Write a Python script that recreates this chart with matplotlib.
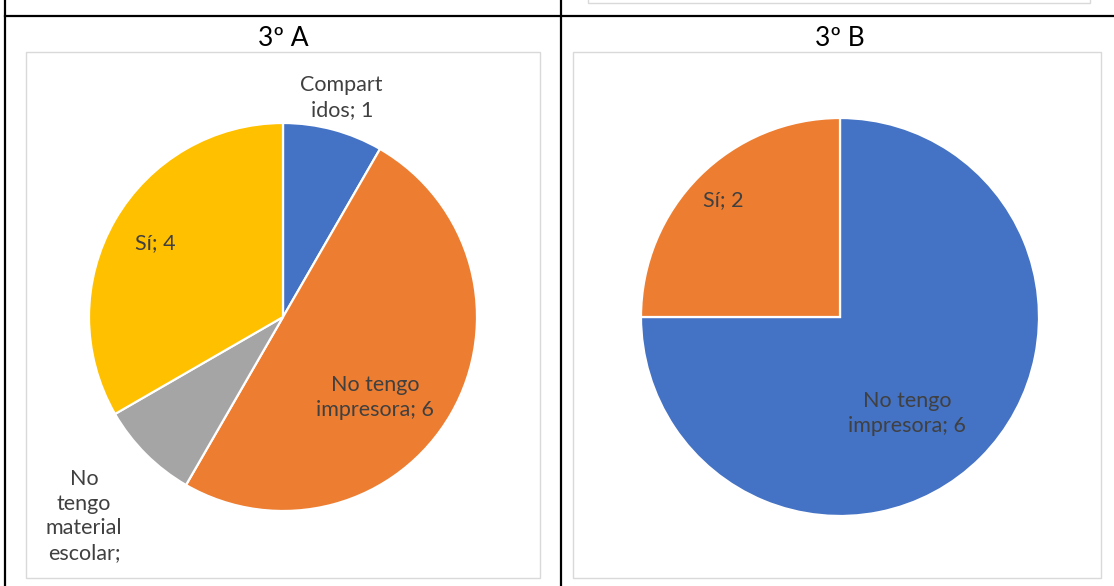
import matplotlib
matplotlib.use("Agg")
import numpy as np
import matplotlib.pyplot as plt
from matplotlib.patches import Rectangle

plt.rcParams['font.family'] = ['Lato', 'DejaVu Sans']

# datos 3º A
cats_a = ["Compartidos", "No tengo impresora", "No tengo material escolar", "Sí"]
vals_a = [1, 6, 1, 4]
labels_a = ["Compart\nidos; 1", "No tengo\nimpresora; 6", "No\ntengo\nmaterial\nescolar;", "Sí; 4"]
colors_a = ["#4472C4", "#ED7D31", "#A5A5A5", "#FFC000"]
dist_a = [1.17, 0.63, 1.45, 0.76]
giro_a = [0, -11, 0, 0]

# datos 3º B
cats_b = ["No tengo impresora", "Sí"]
vals_b = [6, 2]
labels_b = ["No tengo\nimpresora; 6", "Sí; 2"]
colors_b = ["#4472C4", "#ED7D31"]
dist_b = [0.59, 0.83]
giro_b = [-10, 0]

W, H = 1114, 586
fig = plt.figure(figsize=(W / 100, H / 100), dpi=100)

def px_rect(x0, y0, x1, y1):
    # caja en pixeles (origen arriba a la izquierda) -> coords de figura
    return [x0 / W, 1 - y1 / H, (x1 - x0) / W, (y1 - y0) / H]

def add_line(x0, y0, x1, y1, color="black", lw=1.6):
    fig.add_artist(plt.Line2D([x0 / W, x1 / W], [1 - y0 / H, 1 - y1 / H],
                              color=color, lw=lw, transform=fig.transFigure))

def add_box(x0, y0, x1, y1, color="#D9D9D9"):
    fig.add_artist(Rectangle((x0 / W, 1 - y1 / H), (x1 - x0) / W, (y1 - y0) / H,
                             fill=False, edgecolor=color, lw=1.0, transform=fig.transFigure))

# tabla
add_line(5, 16, W, 16)
add_line(5, 0, 5, H)
add_line(561, 0, 561, H)
add_box(588, -5, 1090, 3)

# marcos de los graficos
add_box(26, 52, 540, 578)
add_box(573, 52, 1101, 578)

fig.text(283 / W, 1 - 38 / H, "3º A", ha="center", va="center", fontsize=19, color="black")
fig.text(840 / W, 1 - 38 / H, "3º B", ha="center", va="center", fontsize=19, color="black")

def draw_pie(cx, cy, r, vals, labels, colors, dists, giros):
    ax = fig.add_axes(px_rect(cx - r, cy - r, cx + r, cy + r))
    wedges, _ = ax.pie(vals, colors=colors, startangle=90, counterclock=False,
                       radius=1, wedgeprops=dict(edgecolor="white", linewidth=1.6))
    ax.set_xlim(-1, 1)
    ax.set_ylim(-1, 1)
    ax.set_aspect("equal")
    ax.axis("off")
    for w, lab, d, g in zip(wedges, labels, dists, giros):
        mid = np.deg2rad((w.theta1 + w.theta2) / 2 + g)
        ax.text(d * np.cos(mid), d * np.sin(mid), lab, ha="center", va="center",
                fontsize=15.5, color="#404040", linespacing=1.3, clip_on=False)
    return ax

draw_pie(283, 317, 194, vals_a, labels_a, colors_a, dist_a, giro_a)
draw_pie(840, 317, 199, vals_b, labels_b, colors_b, dist_b, giro_b)

fig.savefig("out.png", dpi=100)
